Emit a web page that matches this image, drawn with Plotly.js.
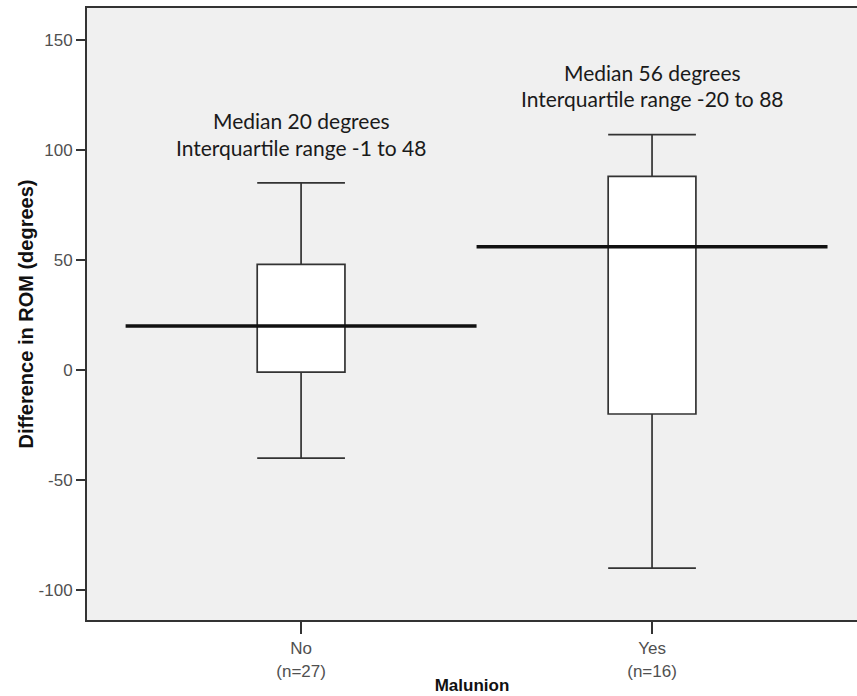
<!DOCTYPE html>
<html>
<head>
<meta charset="utf-8">
<script src="https://cdn.plot.ly/plotly-3.0.1.min.js"></script>
<style>
  html, body { margin: 0; padding: 0; background: #ffffff; }
  #chart { width: 857px; height: 696px; }
</style>
</head>
<body>
<div id="chart"></div>
<script>
// Difference in range of motion by malunion status
const groups = ["No", "Yes"];
const groupN = ["(n=27)", "(n=16)"];
const whiskerLow = [-40, -90];
const quartile1 = [-1, -20];
const medians = [20, 56];
const quartile3 = [48, 88];
const whiskerHigh = [85, 107];
const yTicks = [-100, -50, 0, 50, 100, 150];

const positions = groups.map((g, i) => i);
const frameColor = "#333333";

const traces = [];

// Box-and-whisker for each group
groups.forEach((g, i) => {
  traces.push({
    type: "box",
    name: g,
    x: [positions[i]],
    q1: [quartile1[i]],
    median: [medians[i]],
    q3: [quartile3[i]],
    lowerfence: [whiskerLow[i]],
    upperfence: [whiskerHigh[i]],
    boxpoints: false,
    width: 0.25,
    whiskerwidth: 1,
    fillcolor: "#ffffff",
    line: { color: frameColor, width: 1.7 },
    hoverinfo: "skip",
    showlegend: false
  });
});

// Heavy median reference line across each group's slot
groups.forEach((g, i) => {
  traces.push({
    type: "scatter",
    mode: "lines",
    x: [positions[i] - 0.5, positions[i] + 0.5],
    y: [medians[i], medians[i]],
    line: { color: "#111111", width: 3.4 },
    hoverinfo: "skip",
    showlegend: false
  });
});

// Summary text above each box
const noteFont = { family: "Lato, 'Open Sans', sans-serif", size: 21, color: "#1a1a1a" };
const noteOffsets = [[113.2, 100.9], [135.2, 123.2]];
const annotations = [];
groups.forEach((g, i) => {
  annotations.push({
    x: positions[i], y: noteOffsets[i][0], xref: "x", yref: "y",
    text: "Median " + medians[i] + " degrees",
    showarrow: false, font: noteFont, xanchor: "center", yanchor: "middle"
  });
  annotations.push({
    x: positions[i], y: noteOffsets[i][1], xref: "x", yref: "y",
    text: "Interquartile range " + quartile1[i] + " to " + quartile3[i],
    showarrow: false, font: noteFont, xanchor: "center", yanchor: "middle"
  });
});

const tickFont = { family: "'Liberation Sans', Arial, sans-serif", size: 17, color: "#505050" };
const titleFamily = "'Liberation Sans', Arial, sans-serif";

const layout = {
  width: 857,
  height: 696,
  margin: { l: 87, r: 0, t: 8, b: 76 },
  paper_bgcolor: "#ffffff",
  plot_bgcolor: "#f0f0f0",
  showlegend: false,
  xaxis: {
    range: [-0.61, 1.584],
    tickvals: positions,
    ticktext: groups.map((g, i) => g + "<br>" + groupN[i]),
    tickfont: tickFont,
    ticks: "outside",
    ticklen: 12,
    tickwidth: 1.6,
    tickcolor: frameColor,
    showgrid: false,
    zeroline: false,
    showline: true,
    linecolor: frameColor,
    linewidth: 2,
    mirror: true,
    title: {
      text: "<b>Malunion</b>",
      font: { family: titleFamily, size: 17, color: "#111111" },
      standoff: 0
    }
  },
  yaxis: {
    range: [-113.6, 164.5],
    tickvals: yTicks,
    ticktext: yTicks.map(v => String(v)),
    tickfont: tickFont,
    ticks: "outside",
    ticklen: 9,
    tickwidth: 1.6,
    tickcolor: frameColor,
    showgrid: false,
    zeroline: false,
    showline: true,
    linecolor: frameColor,
    linewidth: 2,
    mirror: true,
    title: {
      text: "<b>Difference in ROM (degrees)</b>",
      font: { family: titleFamily, size: 20, color: "#111111" },
      standoff: 0
    }
  },
  annotations: annotations
};

Plotly.newPlot("chart", traces, layout, { staticPlot: true, displayModeBar: false });
</script>
</body>
</html>
